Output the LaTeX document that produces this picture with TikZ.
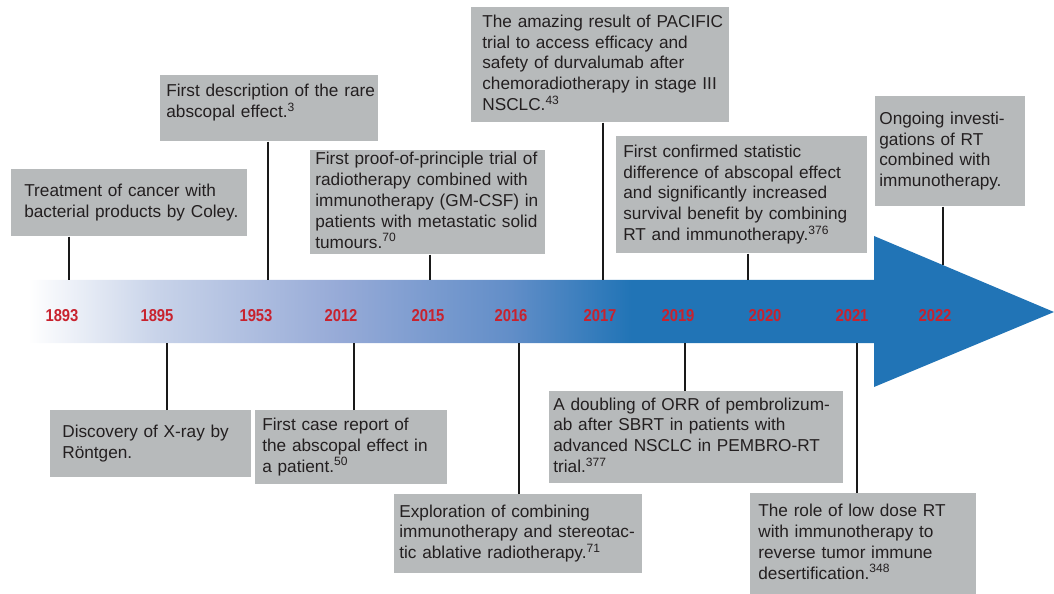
\documentclass[tikz,border=0pt]{standalone}
\usepackage{fontspec}
\setmainfont{Liberation Sans}
\newfontfamily\yearfont[FakeStretch=0.86]{Liberation Sans}
\usetikzlibrary{positioning,calc}

\definecolor{tlblue}{RGB}{33,116,182}
\definecolor{tlpale}{RGB}{200,211,233}
\definecolor{tlmid}{RGB}{150,170,215}
\definecolor{tldeep}{RGB}{98,142,200}
\definecolor{boxgray}{RGB}{183,186,187}
\definecolor{yearred}{RGB}{200,34,46}
\definecolor{txtdark}{RGB}{35,31,32}

\pgfdeclarehorizontalshading{barshade}{100bp}{color(0bp)=(white); color(25bp)=(white);
    color(31.3bp)=(tlpale); color(40.2bp)=(tlmid); color(48.5bp)=(tldeep);
    color(54.4bp)=(tlblue); color(100bp)=(tlblue)}

\newcommand{\evlines}[1]{\begin{tabular}{@{}l@{}}#1\end{tabular}}

\tikzset{
    evbox/.style={fill=boxgray, anchor=north west, inner ysep=0pt, text=txtdark,
        font=\fontsize{9.8}{11.8}\selectfont},
    yearlbl/.style={text=yearred, inner sep=0pt, font=\yearfont\bfseries\fontsize{9.8}{11}\selectfont},
    stem/.style={line width=1.1pt, draw=black!90}
}

\begin{document}
\begin{tikzpicture}[x=0.02cm, y=-0.02cm]
    \useasboundingbox (0,0) rectangle (1054,594);

    % time bar with arrow head
    \shade[shading=barshade] (28,280) -- (874,280) -- (874,236) -- (1054,312)
        -- (874,387) -- (874,343) -- (28,343) -- cycle;

    % years
    \foreach \yr/\xx in {1893/62, 1895/157, 1953/256, 2012/341, 2015/428, 2016/511,
                         2017/600, 2019/678, 2020/765, 2021/852, 2022/935}
        \node[yearlbl] (y\yr) at (\xx,316) {\yr};

    % stem ends on the bar
    \coordinate (s1893) at (69,280);
    \coordinate (s1953) at (268,280);
    \coordinate (s2015) at (430,280);
    \coordinate (s2017) at (603,280);
    \coordinate (s2020) at (748,280);
    \coordinate (s2022) at (943,265);
    \coordinate (s1895) at (167,343);
    \coordinate (s2012) at (354,343);
    \coordinate (s2016) at (519,343);
    \coordinate (s2019) at (685,343);
    \coordinate (s2021) at (857,343);

    % events above the bar
    \node[evbox, text width=4.2cm, inner xsep=0.26cm, minimum height=1.34cm] (coley) at (11,169)
        {\evlines{Treatment of cancer with\\ bacterial products by Coley.}};
    \node[evbox, text width=4.12cm, inner xsep=0.12cm, minimum height=1.32cm] (abscopal) at (160,75)
        {\evlines{First description of the rare\\ abscopal effect.\textsuperscript{3}}\vspace{6pt}};
    \node[evbox, text width=4.5cm, inner xsep=0.1cm, minimum height=2.04cm] (gmcsf) at (310,150)
        {\evlines{First proof-of-principle trial of\\ radiotherapy combined with\\ immunotherapy (GM-CSF) in\\ patients with metastatic solid\\ tumours.\textsuperscript{70}}};
    \node[evbox, text width=4.72cm, inner xsep=0.22cm, minimum height=2.3cm] (pacific) at (471,7)
        {\evlines{The amazing result of PACIFIC\\ trial to access efficacy and\\ safety of durvalumab after\\ chemoradiotherapy in stage III\\ NSCLC.\textsuperscript{43}}};
    \node[evbox, text width=4.74cm, inner xsep=0.14cm, minimum height=2.34cm] (survival) at (616,136)
        {\evlines{First confirmed statistic\\ difference of abscopal effect\\ and significantly increased\\ survival benefit by combining\\ RT and immunotherapy.\textsuperscript{376}}};
    \node[evbox, text width=2.84cm, inner xsep=0.08cm, minimum height=2.2cm] (ongoing) at (875,96)
        {\evlines{Ongoing investi-\\ gations of RT\\ combined with\\ immunotherapy.}};

    % events below the bar
    \node[evbox, text width=3.54cm, inner xsep=0.24cm, minimum height=1.34cm] (xray) at (50,410)
        {\evlines{Discovery of X-ray by\\ Röntgen.}};
    \node[evbox, text width=3.56cm, inner xsep=0.14cm, minimum height=1.48cm] (casereport) at (255,410)
        {\evlines{First case report of\\ the abscopal effect in\\ a patient.\textsuperscript{50}}};
    \node[evbox, text width=4.76cm, inner xsep=0.1cm, minimum height=1.58cm] (sabr) at (394,494)
        {\evlines{Exploration of combining\\ immunotherapy and stereotac-\\ tic ablative radiotherapy.\textsuperscript{71}}};
    \node[evbox, text width=5.72cm, inner xsep=0.08cm, minimum height=1.84cm] (pembro) at (549,391)
        {\evlines{A doubling of ORR of pembrolizum-\\ ab after SBRT in patients with\\ advanced NSCLC in PEMBRO-RT\\ trial.\textsuperscript{377}}};
    \node[evbox, text width=4.2cm, inner xsep=0.16cm, minimum height=2.02cm] (lowdose) at (750,493)
        {\evlines{The role of low dose RT\\ with immunotherapy to\\ reverse tumor immune\\ desertification.\textsuperscript{348}}};

    % stems
    \draw[stem] (coley.south -| s1893) -- (s1893);
    \draw[stem] (abscopal.south -| s1953) -- (s1953);
    \draw[stem] (gmcsf.south -| s2015) -- (s2015);
    \draw[stem] (pacific.south -| s2017) -- (s2017);
    \draw[stem] (survival.south -| s2020) -- (s2020);
    \draw[stem] (ongoing.south -| s2022) -- (s2022);
    \draw[stem] (xray.north -| s1895) -- (s1895);
    \draw[stem] (casereport.north -| s2012) -- (s2012);
    \draw[stem] (sabr.north -| s2016) -- (s2016);
    \draw[stem] (pembro.north -| s2019) -- (s2019);
    \draw[stem] (lowdose.north -| s2021) -- (s2021);
\end{tikzpicture}
\end{document}
